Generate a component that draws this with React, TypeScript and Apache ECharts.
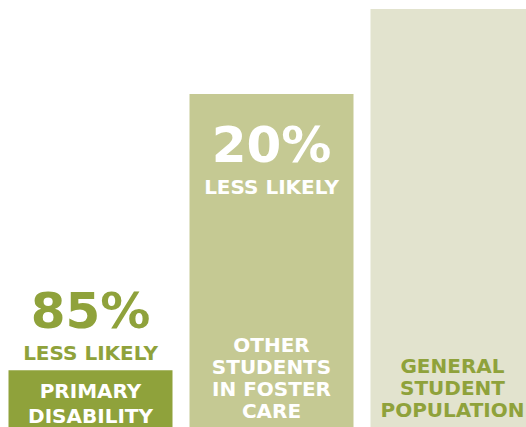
import React, { useEffect, useRef } from "react";
import * as echarts from "echarts";

const categories = ["PRIMARY\nDISABILITY", "OTHER\nSTUDENTS\nIN FOSTER\nCARE", "GENERAL\nSTUDENT\nPOPULATION"];
const values = [15, 80, 100];
const percentLabels = ["85%", "20%", ""];
const subLabels = ["LESS LIKELY", "LESS LIKELY", ""];

const barColors = ["#8fa23b", "#c5c993", "#e2e3ce"];
const nameColors = ["#ffffff", "#ffffff", "#8fa23b"];
const pctColors = ["#8fa23b", "#ffffff", "#ffffff"];
const FONT = "DejaVu Sans";

export default function App() {
  const ref = useRef<HTMLDivElement>(null);
  useEffect(() => {
    if (!ref.current) return;
    const chart = echarts.init(ref.current, undefined, { renderer: "svg" });
    const nameLH = [25, 22, 22];
    const nameDist = [6, 12, 13];
    const mainData = values.map((v, i) => ({
      value: v,
      itemStyle: { color: barColors[i] },
      label: {
        show: true,
        position: "insideBottom",
        distance: nameDist[i],
        formatter: categories[i],
        color: nameColors[i],
        fontFamily: FONT,
        fontWeight: "bold",
        fontSize: 20,
        lineHeight: nameLH[i],
        align: "center",
      },
    }));
    const pctData = values.map((v, i) => ({
      value: v,
      itemStyle: { color: "rgba(0,0,0,0)" },
      label: {
        show: percentLabels[i] !== "",
        position: i === 0 ? "top" : "insideTop",
        distance: i === 0 ? 2 : 23,
        formatter: `{p|${percentLabels[i]}}\n{l|${subLabels[i]}}`,
        rich: {
          p: { fontFamily: FONT, fontWeight: "bold", fontSize: 50, lineHeight: 55, color: pctColors[i], align: "center" },
          l: { fontFamily: FONT, fontWeight: "bold", fontSize: 20, lineHeight: 30, color: pctColors[i], align: "center" },
        },
      },
    }));
    chart.setOption({
      animation: false,
      grid: { left: 0, right: 0, top: 9, bottom: 0 },
      xAxis: { type: "category", data: categories, show: false },
      yAxis: { type: "value", min: 0, max: 100, show: false },
      series: [
        { type: "bar", data: mainData, barWidth: 164, silent: true },
        { type: "bar", data: pctData, barWidth: 164, barGap: "-100%", silent: true },
      ],
    });
    return () => chart.dispose();
  }, []);
  return (
    <div style={{ position: "fixed", left: 0, top: 0, width: 526, height: 427, overflow: "hidden", background: "#ffffff" }}>
      <div ref={ref} style={{ position: "absolute", left: 0, top: 0, width: 543, height: 434 }} />
    </div>
  );
}
